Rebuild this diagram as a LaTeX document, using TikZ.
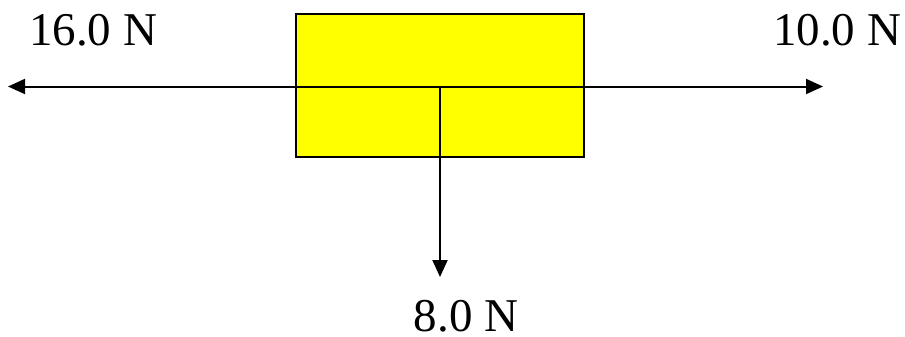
\documentclass[tikz,border=0pt]{standalone}
\usepackage{fontspec}
\setmainfont{Liberation Serif}
\usetikzlibrary{arrows.meta,positioning}

\begin{document}
\begin{tikzpicture}[
    x=1pt, y=-1pt,
    block/.style={draw=black, fill={rgb,255:red,255;green,255;blue,0}, line width=2pt, minimum width=288pt, minimum height=143pt, inner sep=0pt},
    lbl/.style={font=\fontsize{47}{56}\selectfont, anchor=base, inner sep=0pt},
    arr/.style={-{Triangle[length=17pt, width=15pt]}, line width=2pt}
]
\useasboundingbox (0,0) rectangle (905,337);
\node[block] (body) at (440,85.5) {};
\coordinate (mid) at (440,86.5);
\coordinate (lefttip) at (8,86.5);
\coordinate (righttip) at (823,86.5);
\coordinate (downtip) at (440,277);

\node[lbl] (fleft) at (93,46) {16.0 N};
\node[lbl] (fright) at (837,46) {10.0 N};
\node[lbl] (fdown) at (466,331) {8.0 N};

\draw[arr] (mid) -- (lefttip);
\draw[arr] (mid) -- (righttip);
\draw[arr] (mid) -- (downtip);
\end{tikzpicture}
\end{document}
